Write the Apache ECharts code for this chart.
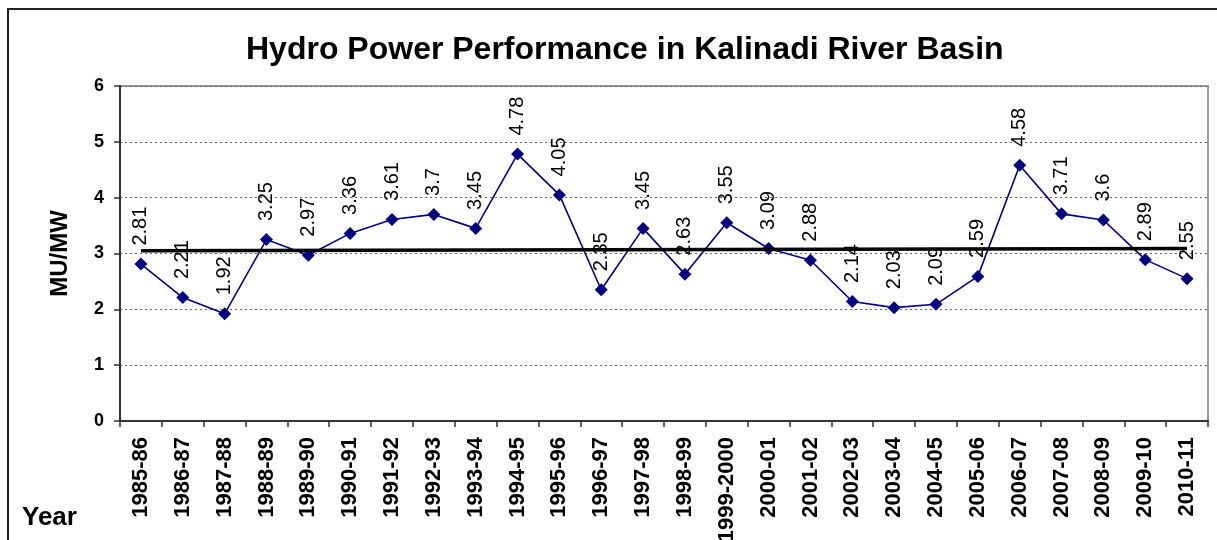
<!DOCTYPE html>
<html>
<head>
<meta charset="utf-8">
<title>Hydro Power Performance</title>
<script src="https://cdn.jsdelivr.net/npm/echarts@6/dist/echarts.min.js"></script>
<style>
    html, body {
        margin: 0;
        padding: 0;
        background: #fff;
    }
    #chart {
        width: 1217px;
        height: 540px;
    }
</style>
</head>
<body>
<div id="chart"></div>
<script>
const years = ["1985-86", "1986-87", "1987-88", "1988-89", "1989-90", "1990-91", "1991-92",
    "1992-93", "1993-94", "1994-95", "1995-96", "1996-97", "1997-98", "1998-99", "1999-2000",
    "2000-01", "2001-02", "2002-03", "2003-04", "2004-05", "2005-06", "2006-07", "2007-08",
    "2008-09", "2009-10", "2010-11"]
const muPerMw = [2.81, 2.21, 1.92, 3.25, 2.97, 3.36, 3.61, 3.7, 3.45, 4.78, 4.05, 2.35, 3.45,
    2.63, 3.55, 3.09, 2.88, 2.14, 2.03, 2.09, 2.59, 4.58, 3.71, 3.6, 2.89, 2.55]
// linear trend, read at first and last year
const trendStart = 3.05
const trendEnd = 3.09

const font = "Liberation Sans, Arial, sans-serif"

let myChart = echarts.init(document.getElementById("chart"))
myChart.setOption({
    animation: false,
    title: {
        text: "Hydro Power Performance in Kalinadi River Basin",
        left: 241,
        top: 29,
        textStyle: {
            fontFamily: font,
            fontSize: 32,
            fontWeight: "bold",
            color: "#000"
        }
    },
    grid: {
        left: 120,
        right: 9,
        top: 86,
        bottom: 119,
        outerBoundsMode: "none", // keep the plot box fixed, labels may run to the edge
        show: true,
        borderColor: "#999",
        borderWidth: 2
    },
    graphic: [
        {
            // outer chart frame
            type: "rect",
            shape: { x: 8, y: 9, width: 1400, height: 800 },
            style: { fill: "none", stroke: "#222", lineWidth: 2 },
            silent: true
        },
        {
            type: "text",
            left: 22,
            top: 505,
            style: {
                text: "Year",
                font: "bold 26px " + font,
                fill: "#000"
            }
        }
    ],
    xAxis: {
        type: "category",
        data: years,
        boundaryGap: true,
        axisLine: {
            lineStyle: { color: "#333", width: 2 }
        },
        axisTick: {
            show: true,
            length: 6,
            lineStyle: { color: "#333", width: 1.5 }
        },
        axisLabel: {
            interval: 0,
            rotate: 90,
            margin: 16,
            fontFamily: font,
            fontSize: 22,
            fontWeight: "bold",
            color: "#000"
        },
        splitLine: { show: false }
    },
    yAxis: {
        type: "value",
        min: 0,
        max: 6,
        interval: 1,
        name: "MU/MW",
        nameLocation: "middle",
        nameRotate: 90,
        nameGap: 48,
        nameTextStyle: {
            fontFamily: font,
            fontSize: 24,
            fontWeight: "bold",
            color: "#000"
        },
        axisLine: {
            show: true,
            lineStyle: { color: "#333", width: 2 }
        },
        axisTick: {
            show: true,
            length: 6,
            lineStyle: { color: "#333", width: 1.5 }
        },
        axisLabel: {
            margin: 16,
            fontFamily: font,
            fontSize: 18,
            fontWeight: "bold",
            color: "#000"
        },
        splitLine: {
            show: true,
            lineStyle: { color: "#666", width: 1, type: [2, 3] }
        }
    },
    series: [
        {
            type: "line",
            data: muPerMw,
            symbol: "diamond",
            symbolSize: 13,
            lineStyle: { color: "#000080", width: 1.6 },
            itemStyle: { color: "#000080" },
            label: {
                show: true,
                position: "top",
                rotate: 90,
                align: "left",
                verticalAlign: "middle",
                distance: 12,
                fontFamily: font,
                fontSize: 20,
                color: "#000"
            },
            markLine: {
                silent: true,
                symbol: "none",
                label: { show: false },
                lineStyle: { color: "#000", width: 3.5, type: "solid" },
                data: [
                    [
                        { coord: [0, trendStart] },
                        { coord: [years.length - 1, trendEnd] }
                    ]
                ]
            }
        }
    ]
})
</script>
</body>
</html>
